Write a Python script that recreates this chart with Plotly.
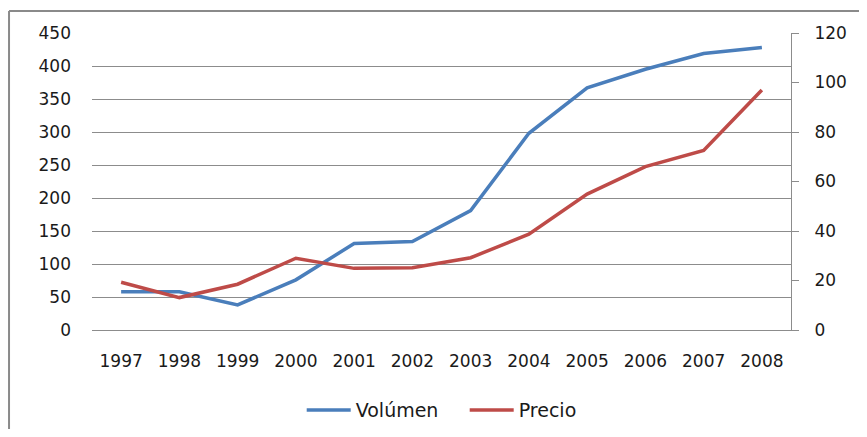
import plotly.graph_objects as go

# Datos
years = ["1997", "1998", "1999", "2000", "2001", "2002",
         "2003", "2004", "2005", "2006", "2007", "2008"]
volumen = [58, 58, 38, 76, 131, 134, 181, 298, 367, 395, 419, 428]
precio = [19.3, 13.1, 18.5, 29.0, 24.9, 25.2, 29.2, 38.7, 54.9, 66.0, 72.5, 97.0]

GRID = "#8c8c8c"
FONT = dict(family="DejaVu Sans", size=17, color="#1a1a1a")

fig = go.Figure()

fig.add_trace(
    go.Scatter(
        x=years, y=volumen, mode="lines", name="Volúmen",
        line={"color": "#4A7EBB", "width": 3.5},
    )
)
fig.add_trace(
    go.Scatter(
        x=years, y=precio, mode="lines", name="Precio", yaxis="y2",
        line={"color": "#BE4B48", "width": 3.5},
    )
)

# Marco exterior del gráfico (solo borde superior e izquierdo visibles)
fig.add_shape(type="line", xref="paper", yref="paper",
              x0=-0.1187, x1=1.12, y0=1.074, y1=1.074,
              line={"color": "#8a8a8a", "width": 2})
fig.add_shape(type="line", xref="paper", yref="paper",
              x0=-0.1187, x1=-0.1187, y0=1.074, y1=-0.4,
              line={"color": "#8a8a8a", "width": 2})

# La página añade 8 px de margen, por eso la figura es algo menor que la ventana
fig.update_layout(
    width=851, height=421,
    margin={"l": 84, "r": 68, "t": 25, "b": 99, "autoexpand": False},
    paper_bgcolor="white", plot_bgcolor="white",
    font=FONT,
    showlegend=True,
    legend={"orientation": "h", "x": 0.3, "xanchor": "left",
            "y": -0.27, "yanchor": "middle",
            "font": dict(FONT, size=19),
            "itemwidth": 44, "entrywidth": 104},
    xaxis={"type": "category", "range": [-0.5, 11.5], "showgrid": False,
           "showline": True, "linecolor": GRID, "linewidth": 1,
           "ticks": "", "ticklabelstandoff": 16, "zeroline": False},
    yaxis={"range": [0, 450], "dtick": 50, "showgrid": True,
           "gridcolor": GRID, "gridwidth": 1, "zeroline": False,
           "showline": False, "ticks": "", "ticklabelstandoff": 20},
    yaxis2={"range": [0, 120], "dtick": 20, "overlaying": "y",
            "side": "right", "showgrid": False, "zeroline": False,
            "showline": True, "linecolor": GRID, "linewidth": 1,
            "ticks": "outside", "ticklen": 7, "tickcolor": GRID,
            "ticklabelstandoff": 12},
)

fig.write_html("out.html")
